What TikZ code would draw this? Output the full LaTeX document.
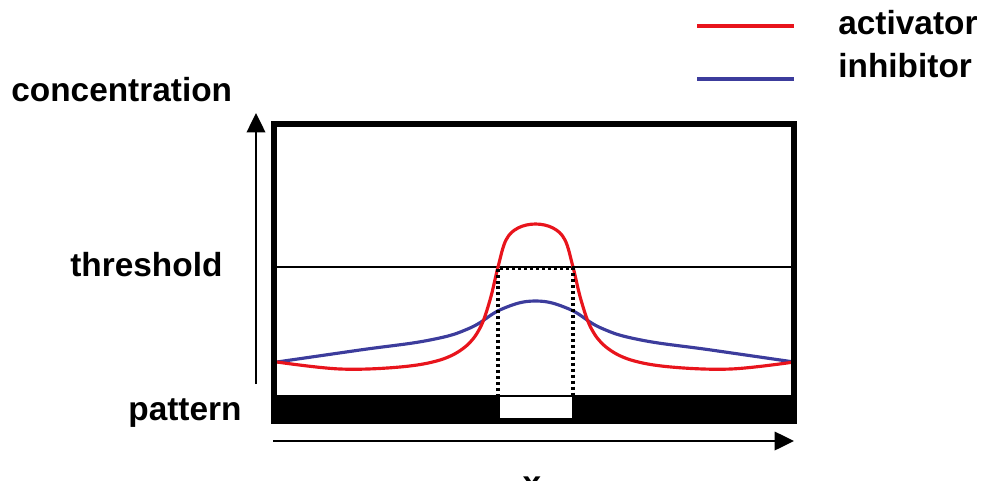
\documentclass[tikz,border=0pt]{standalone}
\usepackage{fontspec}
\setmainfont{Liberation Sans}
\usetikzlibrary{arrows.meta}
\definecolor{actred}{HTML}{E8141C}
\definecolor{inhblue}{HTML}{3C3C9C}

\begin{document}
\begin{tikzpicture}[x=0.02cm, y=-0.02cm,
  >={Triangle[length=11pt, width=10.5pt]},
  lbl/.style={font=\fontsize{19}{22}\selectfont\bfseries, inner sep=0pt},
  axis/.style={->, line width=1.2pt},
  curve/.style={line width=1.8pt, line join=round},
  guide/.style={line width=1.9pt, dash pattern=on 1.7pt off 1.7pt},
]

\useasboundingbox (0,0) rectangle (1000,480);

% ---- Legend ----
\coordinate (act0) at (697,26);
\coordinate (act1) at (794,26);
\coordinate (inh0) at (697,79);
\coordinate (inh1) at (794,79);
\draw[curve, actred] (act0) -- (act1);
\draw[curve, inhblue] (inh0) -- (inh1);
\node[lbl, anchor=base west] (actlabel) at (838,34) {activator};
\node[lbl, anchor=base west] (inhlabel) at (838,77) {inhibitor};

% ---- Labels ----
\node[lbl, anchor=base west] (conclabel) at (11,101) {concentration};
\node[lbl, anchor=base west] (threshlabel) at (70,276) {threshold};
\node[lbl, anchor=base west] (patlabel) at (128,420) {pattern};
\node[lbl, anchor=base] (xlabel) at (532,494) {x};

% ---- Axes ----
\coordinate (ybot) at (256,384);
\coordinate (ytop) at (256,113);
\coordinate (xleft) at (273,441);
\coordinate (xright) at (794,441);
\draw[axis] (ybot) -- (ytop);
\draw[axis] (xleft) -- (xright);

% Threshold
\coordinate (th0) at (277,267);
\coordinate (th1) at (791,267);
\draw[line width=1.1pt] (th0) -- (th1);

% ---- Curves ----
\draw[curve, inhblue] plot[smooth, tension=0.7] coordinates {
  (277,362) (360,350) (430,340) (470,328) (502,309) (535.5,301)
  (569,309) (601,328) (641,340) (711,350) (794,362)};
\draw[curve, actred] plot[smooth, tension=0.6] coordinates {
  (277,362) (340,369) (400,367) (440,360) (465,347) (480,328) (490,300)
  (498,267) (506,240) (518,228) (535.5,224) (553,228) (565,240)
  (573,267) (581,300) (591,328) (606,347) (631,360) (671,367)
  (731,369) (794,362)};

% Dotted guides down to the pattern
\draw[guide] (498,397) -- (498,268) -- (573,268) -- (573,397);

% ---- Frame and pattern bar ----
\fill (271,395) rectangle (797,424);
\fill[white] (500,397) rectangle (572,419);
\draw[line width=3.4pt] (274,124) rectangle (794,421);

\end{tikzpicture}
\end{document}
